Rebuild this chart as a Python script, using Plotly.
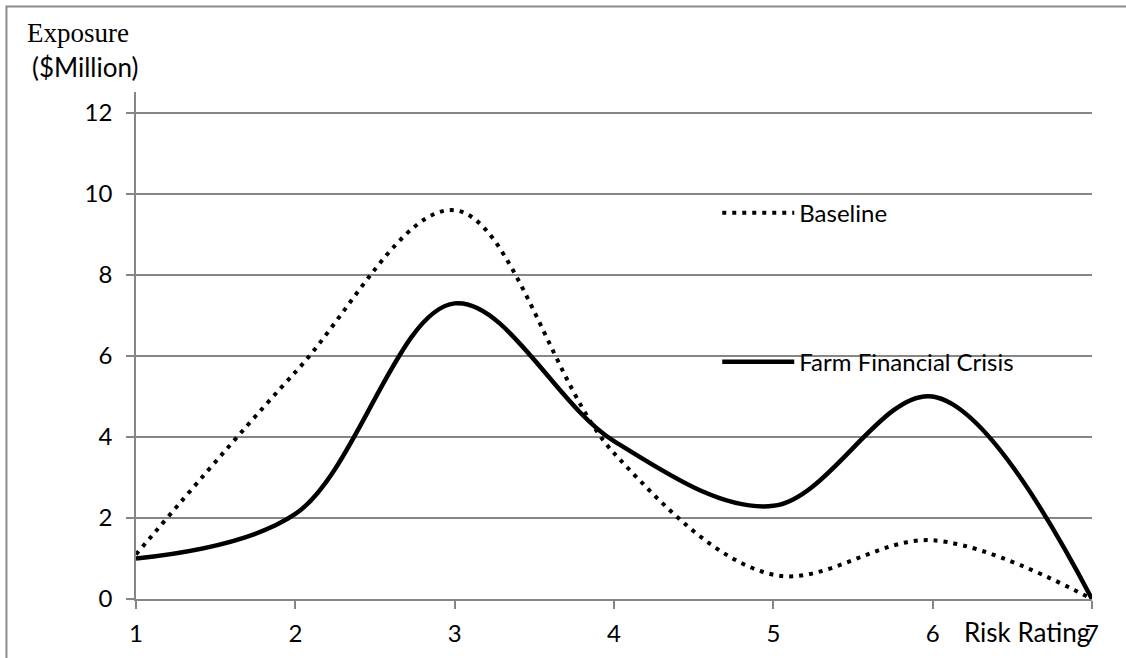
import plotly.graph_objects as go

# Risk rating categories and exposure by scenario ($ million)
risk_rating = [1, 2, 3, 4, 5, 6, 7]
baseline = [1.1, 5.6, 9.6, 3.6, 0.6, 1.45, 0.0]
farm_crisis = [1.0, 2.1, 7.3, 3.9, 2.3, 5.0, 0.0]

y_ticks = [0, 2, 4, 6, 8, 10, 12]
x_ticks = [1, 2, 3, 4, 5, 6, 7]

GRID = "#868686"
FONT = "Lato"

fig = go.Figure()

fig.add_trace(go.Scatter(
    x=risk_rating, y=baseline, name="Baseline", mode="lines",
    line=dict(color="black", width=4, dash="4px,6px", shape="spline", smoothing=1),
    legend="legend",
))
fig.add_trace(go.Scatter(
    x=risk_rating, y=farm_crisis, name="Farm Financial Crisis", mode="lines",
    line=dict(color="black", width=4.5, shape="spline", smoothing=1),
    legend="legend2",
))

legend_style = dict(
    bgcolor="rgba(0,0,0,0)", borderwidth=0, itemwidth=72,
    font=dict(family=FONT, size=24, color="black"),
    xanchor="left", yanchor="middle",
)

fig.update_layout(
    width=1126, height=658,
    margin=dict(l=136, r=34, t=92, b=59, autoexpand=False),
    paper_bgcolor="white", plot_bgcolor="white",
    font=dict(family=FONT, size=24, color="black"),
    showlegend=True,
    legend=dict(x=0.608, y=0.761, **legend_style),
    legend2=dict(x=0.608, y=0.467, **legend_style),
    xaxis=dict(
        range=[1, 7], tickvals=x_ticks, ticktext=[str(v) for v in x_ticks],
        showgrid=False, zeroline=False, automargin=False,
        showline=True, linecolor=GRID, linewidth=1.5,
        ticks="outside", ticklen=8, tickcolor=GRID, tickwidth=1.5,
        ticklabelstandoff=4,
    ),
    yaxis=dict(
        range=[0, 12.52], tickvals=y_ticks, ticktext=[str(v) for v in y_ticks],
        showgrid=True, gridcolor=GRID, gridwidth=1.5, zeroline=False, automargin=False,
        showline=True, linecolor=GRID, linewidth=1.5,
        ticks="outside", ticklen=8, tickcolor=GRID, tickwidth=1.5,
        ticklabelstandoff=9,
    ),
    shapes=[dict(
        type="rect", xref="paper", yref="paper",
        x0=-0.1355, x1=1.2, y0=-0.3, y1=1.1686,
        line=dict(color="#8c8c8c", width=2), fillcolor="rgba(0,0,0,0)", layer="below",
    )],
    annotations=[
        dict(text="Exposure", xref="paper", yref="paper", x=-0.116, y=1.116,
             xanchor="left", yanchor="middle", showarrow=False,
             font=dict(family="Liberation Serif", size=27, color="black")),
        dict(text="($Million)", xref="paper", yref="paper", x=-0.111, y=1.049,
             xanchor="left", yanchor="middle", showarrow=False,
             font=dict(family=FONT, size=26, color="black")),
        dict(text="Risk Rating", xref="paper", yref="paper", x=1.0, y=-0.066,
             xanchor="right", yanchor="middle", showarrow=False,
             font=dict(family=FONT, size=26, color="black")),
    ],
)

fig.write_html("out.html")
